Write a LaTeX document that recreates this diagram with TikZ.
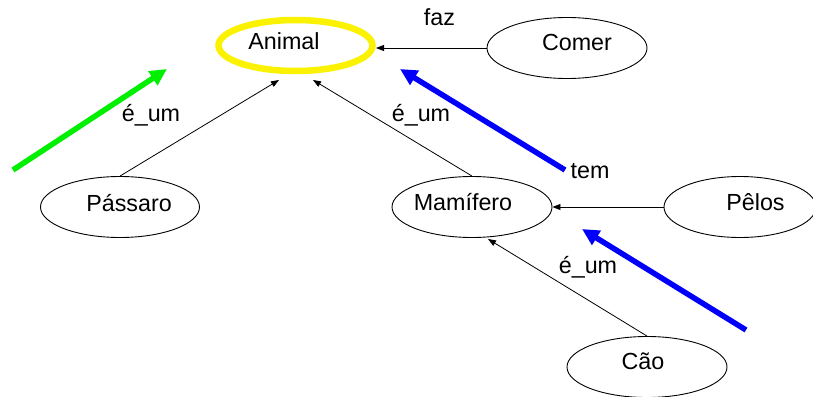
\documentclass[tikz,border=0pt]{standalone}
\usepackage{fontspec}
\setmainfont{Liberation Sans}
\usetikzlibrary{shapes.geometric,arrows.meta}
\definecolor{hiyellow}{RGB}{250,242,0}
\definecolor{higreen}{RGB}{0,240,0}
\definecolor{hiblue}{RGB}{0,0,250}
\begin{document}
\begin{tikzpicture}[x=1pt,y=-1pt,
  concept/.style={ellipse,draw=black,line width=0.9pt,inner sep=0pt,minimum width=160pt,minimum height=61pt},
  lbl/.style={anchor=base,inner sep=0pt,font=\fontsize{23.3}{28}\selectfont},
  rel/.style={line width=0.8pt,-{Triangle[length=8pt,width=6pt]}},
  hint/.style={line width=5.5pt,-{Triangle[length=17pt,width=16pt]}}]
\useasboundingbox (0,0) rectangle (813,396);
% concepts
\node[concept,draw=hiyellow,line width=6.5pt,minimum width=154pt,minimum height=51pt,outer sep=3.5pt] (animal) at (295.5,45.5) {};
\node[concept] (comer) at (567,48) {};
\node[concept,minimum width=159pt] (passaro) at (120,207) {};
\node[concept] (mamifero) at (472,207) {};
\node[concept,minimum width=152pt] (pelos) at (740,207) {};
\node[concept] (cao) at (647,367) {};
% texts
\node[lbl] (tanimal) at (284,49.5) {Animal};
\node[lbl] (tcomer) at (577,51) {Comer};
\node[lbl] (tpassaro) at (129,211.5) {Pássaro};
\node[lbl] (tmamifero) at (463,210) {Mamífero};
\node[lbl] (tpelos) at (755.5,210) {Pêlos};
\node[lbl] (tcao) at (643,369) {Cão};
% relations
\draw[rel] (comer.west) -- (comer.west -| animal.east);
\draw[rel] (passaro.north) -- ([shift={(-16.5,34.5)}]animal.center);
\draw[rel] (mamifero.north) -- ([shift={(17.5,34.5)}]animal.center);
\draw[rel] (pelos.west) -- (mamifero.east);
\draw[rel] (cao.north) -- ([shift={(16,32)}]mamifero.center);
% relation labels
\node[lbl] (lfaz) at (439.5,26) {faz};
\node[lbl] (lum1) at (151,121.5) {é\_um};
\node[lbl] (lum2) at (421,121.5) {é\_um};
\node[lbl] (ltem) at (590,178) {tem};
\node[lbl] (lum3) at (588,273) {é\_um};
% highlight arrows
\coordinate (g1) at (13,170);
\coordinate (g2) at (167,69);
\coordinate (b1) at (565,170);
\coordinate (b2) at (400,69);
\coordinate (b3) at (746,330);
\coordinate (b4) at (582,229);
\draw[hint,higreen] (g1) -- (g2);
\draw[hint,hiblue] (b1) -- (b2);
\draw[hint,hiblue] (b3) -- (b4);
\end{tikzpicture}
\end{document}
